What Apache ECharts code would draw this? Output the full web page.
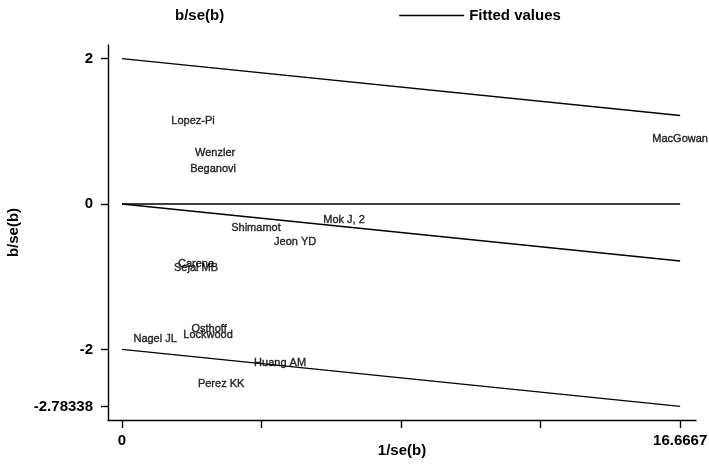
<!DOCTYPE html>
<html>
<head>
<meta charset="utf-8">
<script src="https://cdn.jsdelivr.net/npm/echarts@6/dist/echarts.min.js"></script>
<style>html,body{margin:0;padding:0;background:#fff}#c{width:709px;height:464px}</style>
</head>
<body>
<div id="c"></div>
<script>
// Study labels and their (1/se(b), b/se(b)) coordinates
var studies = ['Lopez-Pi','Wenzler','Beganovi','Shimamot','Jeon YD','Mok J, 2','Carena','Sejal MB','Nagel JL','Osthoff','Lockwood','Huang AM','Perez KK','MacGowan'];
var precision = [2.12, 2.78, 2.72, 4.00, 5.17, 6.63, 2.21, 2.21, 0.99, 2.60, 2.57, 4.72, 2.96, 16.6667];
var zScore    = [1.14, 0.70, 0.48, -0.33, -0.52, -0.22, -0.83, -0.88, -1.86, -1.72, -1.80, -2.19, -2.48, 0.89];

// Fitted line and +/-2 bands
var lineX   = [0, 16.6667];
var fittedY = [0, -0.78338];
var upperY  = [2, 1.21662];
var lowerY  = [-2, -2.78338];
var zeroY   = [0, 0];

// Tick values / labels
var xTicks = [0, 4.166675, 8.33335, 12.500025, 16.6667];
var xTickLabels = {'0':'0', '16.6667':'16.6667'};
var yTicks = [2, 0, -2, -2.78338];

function pairs(xs, ys){ return xs.map(function(x,i){ return [x, ys[i]]; }); }

var chart = echarts.init(document.getElementById('c'), null, {renderer:'canvas'});
var font = 'Liberation Sans, Arial, sans-serif';
var lineStyle = {color:'#000', width:1.4};
var bigText = {fontFamily:font, fontSize:15, fontWeight:'bold', color:'#000'};

chart.setOption({
  backgroundColor:'#fff',
  animation:false,
  textStyle:{fontFamily:font, color:'#000'},
  legend:{
    left:100, top:3, itemWidth:65, itemHeight:1.5, itemGap:175,
    textStyle:bigText,
    data:[
      {name:'b/se(b)', icon:'rect', itemStyle:{opacity:0}},
      {name:'Fitted values', icon:'rect', itemStyle:{color:'#000'}}
    ]
  },
  grid:{left:108, right:13, top:45, bottom:44, containLabel:false, outerBoundsMode:'none'},
  xAxis:{
    type:'value', min:-0.418, max:17.14,
    name:'1/se(b)', nameLocation:'middle', nameGap:23, nameMoveOverlap:false,
    nameTextStyle:bigText,
    axisLine:{show:true, onZero:false, lineStyle:{color:'#000', width:1.4}},
    axisTick:{show:true, customValues:xTicks, length:8, lineStyle:{color:'#000', width:1.4}},
    axisLabel:{show:true, customValues:[0, 16.6667], margin:13, fontSize:15, fontWeight:'bold', color:'#000', fontFamily:font,
      formatter:function(v){ return xTickLabels[String(v)] !== undefined ? xTickLabels[String(v)] : ''; }},
    splitLine:{show:false}
  },
  yAxis:{
    type:'value', min:-2.971, max:2.187,
    name:'b/se(b)', nameLocation:'middle', nameGap:87, nameRotate:90,
    nameTextStyle:bigText,
    axisLine:{show:true, onZero:false, lineStyle:{color:'#000', width:1.4}},
    axisTick:{show:true, customValues:yTicks, length:7, lineStyle:{color:'#000', width:1.4}},
    axisLabel:{show:true, customValues:yTicks, margin:15, fontSize:15, fontWeight:'bold', color:'#000', fontFamily:font,
      formatter:function(v){ return String(v); }},
    splitLine:{show:false}
  },
  series:[
    {
      name:'b/se(b)', type:'scatter', symbolSize:1,
      itemStyle:{color:'rgba(0,0,0,0)'},
      label:{show:true, position:'inside', fontSize:11, color:'#000', fontFamily:font,
        textBorderColor:'#000', textBorderWidth:0.4,
        formatter:function(p){ return p.name; }},
      data: studies.map(function(s,i){ return {name:s, value:[precision[i], zScore[i]]}; }),
      z:3
    },
    {name:'Fitted values', type:'line', symbol:'none', itemStyle:{color:'#000'}, lineStyle:lineStyle, data:pairs(lineX, fittedY)},
    {name:'zero', type:'line', symbol:'none', itemStyle:{color:'#000'}, lineStyle:lineStyle, data:pairs(lineX, zeroY)},
    {name:'upper', type:'line', symbol:'none', itemStyle:{color:'#000'}, lineStyle:lineStyle, data:pairs(lineX, upperY)},
    {name:'lower', type:'line', symbol:'none', itemStyle:{color:'#000'}, lineStyle:lineStyle, data:pairs(lineX, lowerY)}
  ]
});
</script>
</body>
</html>
